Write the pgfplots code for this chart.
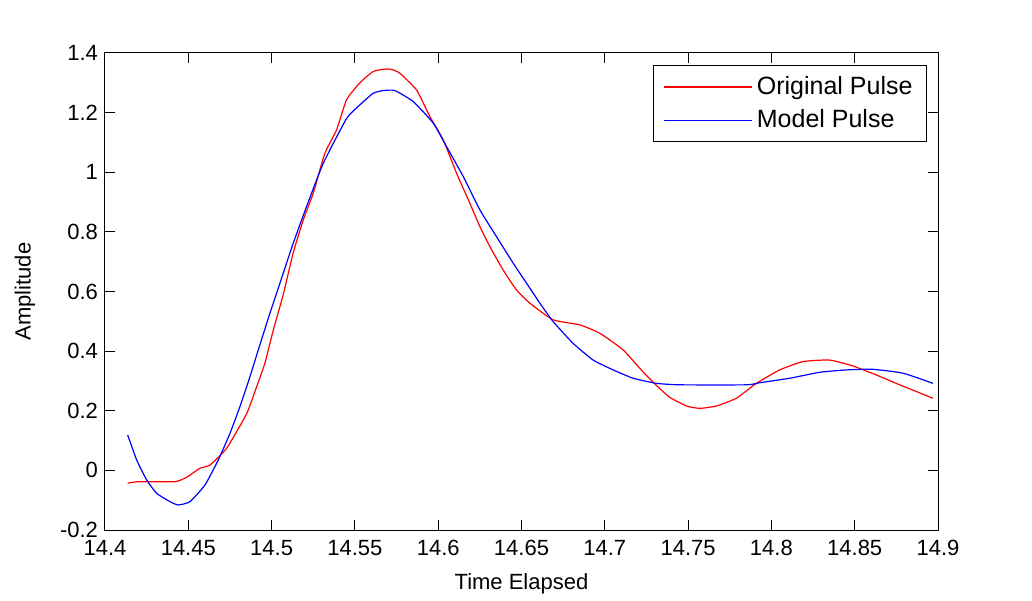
\documentclass[border=0pt]{standalone}
\usepackage{fontspec}
\setmainfont{Liberation Sans}
\usepackage{pgfplots}
\pgfplotsset{compat=1.18}
\begin{document}
\begin{tikzpicture}
\begin{axis}[
  scale only axis, width=416.5pt, height=238.5pt,
  xmin=14.4, xmax=14.9, ymin=-0.2, ymax=1.4,
  xtick={14.4,14.45,14.5,14.55,14.6,14.65,14.7,14.75,14.8,14.85,14.9},
  ytick={-0.2,0,0.2,0.4,0.6,0.8,1,1.2,1.4},
  /pgf/number format/assume math mode=true,
  tick align=inside, tick pos=both, major tick length=5pt,
  tick style={black, line width=0.5pt},
  axis line style={black, line width=0.5pt},
  font=\fontsize{11}{13}\selectfont,
  xticklabel style={yshift=-1.5pt},
  xlabel={Time Elapsed}, ylabel={Amplitude},
  xlabel style={yshift=-2pt},
  ylabel style={yshift=5.5pt},
  legend cell align=left,
  legend style={at={(1,1)}, anchor=north east, xshift=-5.5pt, yshift=-6pt,
    draw=black, line width=0.5pt, font=\fontsize{12.5}{15}\selectfont,
    row sep=2pt, inner xsep=5pt, inner ysep=3.5pt},
  legend image code/.code={\path (-4pt,0pt) -- (40pt,0pt);\draw[#1] (0pt,0pt) -- (36pt,0pt);},
]
\coordinate (bl) at (rel axis cs:0,0);
\coordinate (tr) at (rel axis cs:1,1);
\addplot[red, line width=0.6pt, smooth, tension=0.3] coordinates {
(14.4136,-0.043) (14.420,-0.038) (14.442,-0.038) (14.449,-0.023) (14.457,0.007)
(14.463,0.018) (14.473,0.074) (14.485,0.19) (14.491,0.28) (14.496,0.36)
(14.501,0.47) (14.507,0.59) (14.513,0.73) (14.519,0.84) (14.525,0.93)
(14.532,1.064) (14.539,1.142) (14.545,1.243) (14.553,1.30) (14.561,1.338)
(14.568,1.346) (14.572,1.345) (14.577,1.332) (14.587,1.276) (14.595,1.187)
(14.603,1.109) (14.611,0.997) (14.619,0.896) (14.625,0.818) (14.631,0.751)
(14.639,0.672) (14.647,0.605) (14.655,0.561) (14.669,0.505) (14.685,0.488)
(14.697,0.46) (14.711,0.404) (14.723,0.33) (14.731,0.285) (14.739,0.245)
(14.749,0.216) (14.757,0.208) (14.767,0.216) (14.779,0.242) (14.791,0.292)
(14.805,0.337) (14.819,0.365) (14.835,0.370) (14.849,0.350) (14.863,0.32)
(14.877,0.287) (14.897,0.242)
};
\addlegendentry{Original Pulse}
\addplot[blue, line width=0.6pt, smooth, tension=0.3] coordinates {
(14.4136,0.119) (14.419,0.035) (14.425,-0.032) (14.431,-0.077) (14.439,-0.105)
(14.444,-0.116) (14.451,-0.105) (14.460,-0.049) (14.468,0.035) (14.475,0.124)
(14.481,0.214) (14.487,0.314) (14.492,0.404) (14.499,0.527) (14.505,0.628)
(14.513,0.762) (14.521,0.885) (14.531,1.03) (14.545,1.18) (14.553,1.226)
(14.561,1.265) (14.567,1.274) (14.574,1.274) (14.585,1.237) (14.597,1.165)
(14.605,1.086) (14.615,0.986) (14.625,0.874) (14.635,0.784) (14.645,0.695)
(14.653,0.628) (14.661,0.561) (14.669,0.499) (14.681,0.426) (14.693,0.370)
(14.705,0.337) (14.717,0.309) (14.731,0.292) (14.745,0.287) (14.785,0.287)
(14.793,0.294) (14.811,0.309) (14.829,0.329) (14.845,0.337) (14.861,0.339)
(14.879,0.326) (14.897,0.292)
};
\addlegendentry{Model Pulse}
\end{axis}
\path ([xshift=-52.5pt,yshift=-31.5pt]bl) rectangle ([xshift=47pt,yshift=26.5pt]tr);
\end{tikzpicture}
\end{document}
